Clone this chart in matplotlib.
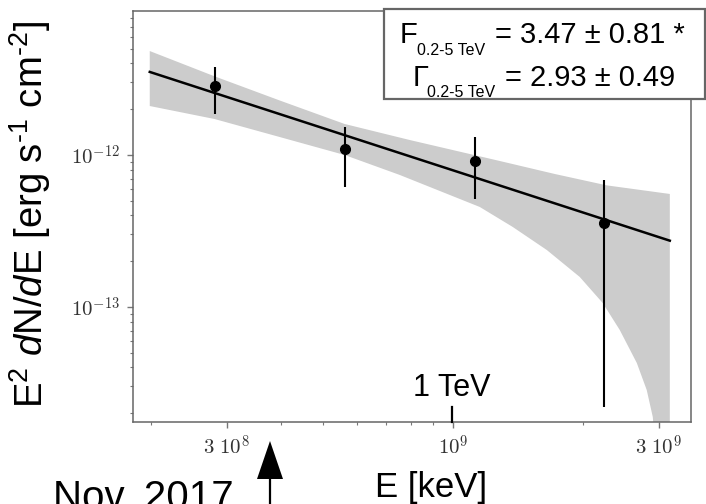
import numpy as np
import matplotlib.pyplot as plt
from matplotlib.patches import Rectangle
from matplotlib.ticker import FixedLocator, NullFormatter

plt.rcParams['font.family'] = ['Liberation Sans', 'DejaVu Sans']
plt.rcParams['mathtext.fontset'] = 'cm'
plt.rcParams['mathtext.rm'] = 'Liberation Sans'
plt.rcParams['mathtext.it'] = 'Liberation Sans:italic'

# flux points (E in keV, E^2 dN/dE in erg s-1 cm-2)
energia = [2.81e8, 5.62e8, 1.124e9, 2.236e9]
flujo = [2.84e-12, 1.09e-12, 9.17e-13, 3.59e-13]
flujo_sup = [3.81e-12, 1.535e-12, 1.307e-12, 6.85e-13]
flujo_inf = [1.86e-12, 6.16e-13, 5.14e-13, 2.2e-14]

# best fit power law (ends of the line)
ajuste_e = [1.99e8, 3.18e9]
ajuste_f = [3.52e-12, 2.73e-13]

# confidence band (butterfly)
banda_sup_e = [1.99e8, 2.81e8, 3.977e8, 5.62e8, 7.95e8, 1.285e9, 1.722e9, 2.273e9, 3.18e9]
banda_sup_f = [4.83e-12, 3.294e-12, 2.284e-12, 1.60e-12, 1.255e-12, 9.13e-13, 7.5e-13,
               6.31e-13, 5.54e-13]
banda_inf_e = [1.99e8, 2.81e8, 3.977e8, 5.62e8, 7.54e8, 1.155e9, 1.377e9, 1.651e9,
               1.968e9, 2.224e9, 2.435e9, 2.667e9, 2.812e9, 2.904e9, 3.015e9, 3.18e9]
banda_inf_f = [2.10e-12, 1.725e-12, 1.313e-12, 1.0e-12, 7.39e-13, 4.55e-13, 3.36e-13,
               2.37e-13, 1.575e-13, 1.062e-13, 7.06e-14, 4.28e-14, 2.84e-14, 1.89e-14,
               5e-15, 1e-15]

xticks = [3e8, 1e9, 3e9]
xtick_labels = [r'$3\ 10^8$', r'$10^9$', r'$3\ 10^9$']
yticks = [1e-13, 1e-12]
ytick_labels = [r'$10^{-13}$', r'$10^{-12}$']

W, H = 706, 504
fig = plt.figure(figsize=(W / 100, H / 100), dpi=100)


def px(x, y):
    # pixel position (from top-left) -> figure fraction
    return x / W, 1 - y / H


ax = fig.add_axes([133 / W, 1 - 422 / H, (691 - 133) / W, (422 - 11) / H])

# band
poly_e = banda_sup_e + banda_inf_e[::-1]
poly_f = banda_sup_f + banda_inf_f[::-1]
ax.fill(poly_e, poly_f, color='#cccccc', lw=0, zorder=1)

ax.plot(ajuste_e, ajuste_f, color='black', lw=1.8, zorder=2)

e = np.array(energia)
f = np.array(flujo)
yerr = [f - np.array(flujo_inf), np.array(flujo_sup) - f]
ax.errorbar(e, f, yerr=yerr, fmt='o', color='black', ms=7, elinewidth=1.5,
            capsize=0, zorder=3)

ax.set_xscale('log')
ax.set_yscale('log')
ax.set_xlim(1.82e8, 3.56e9)
ax.set_ylim(1.75e-14, 8.86e-12)

ax.xaxis.set_major_locator(FixedLocator(xticks))
ax.xaxis.set_ticklabels(xtick_labels)
xminor = [2e8, 4e8, 5e8, 6e8, 7e8, 8e8, 9e8, 2e9]
ax.xaxis.set_minor_locator(FixedLocator(xminor))
ax.xaxis.set_minor_formatter(NullFormatter())

ax.yaxis.set_major_locator(FixedLocator(yticks))
ax.yaxis.set_ticklabels(ytick_labels)
yminor = [k * 10.0 ** p for p in (-14, -13, -12) for k in range(2, 10)]
ax.yaxis.set_minor_locator(FixedLocator(yminor))
ax.yaxis.set_minor_formatter(NullFormatter())

ax.tick_params(which='both', direction='out', color='#777777', labelcolor='#333333')
ax.tick_params(which='major', length=4, width=1, labelsize=15, pad=5)
ax.tick_params(which='minor', length=2.5, width=0.8)
for s in ax.spines.values():
    s.set_color('#666666')
    s.set_linewidth(1.1)

# axis labels
fig.text(*px(30, 215), r'E$^2$ $d$N/$d$E [erg s$^{\text{-1}}$ cm$^{\text{-2}}$]',
         rotation=90, ha='center', va='center', fontsize=27.5, math_fontfamily='custom')
fig.text(*px(431, 497), 'E [keV]', ha='center', va='baseline', fontsize=25)
fig.text(*px(53, 509), 'Nov. 2017', ha='left', va='baseline', fontsize=29)

# 1 TeV marker
fig.text(*px(452, 396), '1 TeV', ha='center', va='baseline', fontsize=22)
fig.lines.append(plt.Line2D([452 / W, 452 / W], [1 - 407 / H, 1 - 422 / H],
                            transform=fig.transFigure, color='black', lw=1.6))

# arrow
fig.lines.append(plt.Line2D([270 / W, 270 / W], [1 - 478 / H, 0],
                            transform=fig.transFigure, color='black', lw=1.6))
fig.patches.append(plt.Polygon([px(257, 479), px(283, 479), px(270, 441)],
                               closed=True, transform=fig.transFigure,
                               color='black', lw=0))

# info box
x0, y0 = px(384, 99)
x1, y1 = px(705, 9)
fig.patches.append(Rectangle((x0, y0), x1 - x0, y1 - y0, transform=fig.transFigure,
                             facecolor='white', edgecolor='#666666', lw=1.6,
                             zorder=5))
fig.text(*px(400, 43), 'F', ha='left', va='baseline', fontsize=21, zorder=6)
fig.text(*px(417, 55), '0.2-5 TeV', ha='left', va='baseline', fontsize=11.5, zorder=6)
fig.text(*px(495, 43), '= 3.47 ± 0.81 *', ha='left', va='baseline', fontsize=21,
         zorder=6)
fig.text(*px(413, 86), 'Γ', ha='left', va='baseline', fontsize=21, zorder=6)
fig.text(*px(427, 97), '0.2-5 TeV', ha='left', va='baseline', fontsize=11.5, zorder=6)
fig.text(*px(505, 86), '= 2.93 ± 0.49', ha='left', va='baseline', fontsize=21,
         zorder=6)

fig.savefig('out.png', dpi=100)
